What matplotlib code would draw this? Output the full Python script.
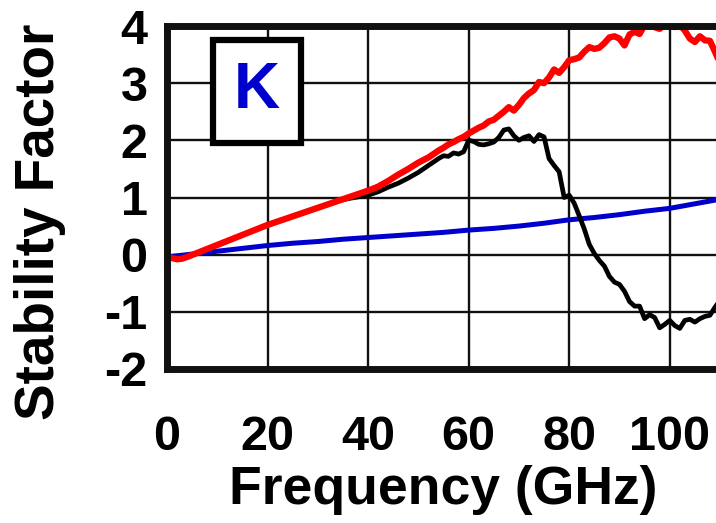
import matplotlib
matplotlib.use('Agg')
import matplotlib.pyplot as plt
from matplotlib.patches import Rectangle

# frequency grid (GHz): 1 GHz steps near the origin, 2 GHz up to 54, then 1 GHz
freq = [0, 1, 2, 3, 4] + list(range(6, 56, 2)) + list(range(55, 111))

# red trace
k_red = [-0.03, -0.06, -0.08, -0.07, -0.04,
         0.03, 0.10, 0.17, 0.24, 0.31, 0.38, 0.45, 0.52, 0.58, 0.64,
         0.70, 0.76, 0.82, 0.88, 0.94, 1.00, 1.06, 1.12, 1.19, 1.29,
         1.40, 1.50, 1.61, 1.70, 1.82,
         1.87, 1.93, 1.97, 2.02, 2.06, 2.12, 2.17, 2.22, 2.26, 2.33,
         2.36, 2.43, 2.50, 2.58, 2.52, 2.62, 2.74, 2.82, 2.88, 3.02,
         3.00, 3.10, 3.24, 3.18, 3.28, 3.40, 3.42, 3.45, 3.55, 3.63,
         3.60, 3.62, 3.70, 3.80, 3.82, 3.78, 3.66, 3.85, 3.90, 3.86,
         4.02, 4.05, 3.98, 3.95, 4.03, 4.04, 3.98, 4.02, 3.92, 3.78,
         3.72, 3.82, 3.75, 3.74, 3.55, 3.35]

# black trace
k_black = [-0.03, -0.06, -0.08, -0.07, -0.04,
           0.03, 0.10, 0.17, 0.24, 0.31, 0.38, 0.45, 0.52, 0.58, 0.64,
           0.70, 0.76, 0.82, 0.88, 0.94, 0.98, 1.01, 1.04, 1.10, 1.18,
           1.25, 1.34, 1.44, 1.56, 1.68,
           1.73, 1.72, 1.78, 1.76, 1.80, 2.00, 1.98, 1.93, 1.92, 1.94,
           1.97, 2.05, 2.18, 2.20, 2.08, 2.00, 2.05, 2.08, 1.98, 2.10,
           2.06, 1.68, 1.56, 1.45, 1.00, 1.04, 0.90, 0.68, 0.45, 0.18,
           0.02, -0.10, -0.20, -0.38, -0.48, -0.52, -0.64, -0.82, -0.90, -0.90,
           -1.12, -1.05, -1.10, -1.28, -1.22, -1.15, -1.24, -1.29, -1.15, -1.13,
           -1.18, -1.12, -1.08, -1.06, -0.92, -0.80]

# blue trace (smooth, sampled every 5 GHz)
freq_blue = list(range(0, 111, 5))
k_blue = [-0.04, 0.01, 0.06, 0.11, 0.16, 0.20, 0.23, 0.27, 0.30, 0.33, 0.36,
          0.39, 0.43, 0.46, 0.50, 0.55, 0.61, 0.65, 0.70, 0.76, 0.81, 0.89, 0.97]

xticks = [0, 20, 40, 60, 80, 100]
yticks = [-2, -1, 0, 1, 2, 3, 4]

plt.rcParams['font.family'] = 'Liberation Sans'
plt.rcParams['font.weight'] = 'bold'
plt.rcParams['axes.unicode_minus'] = False

fig = plt.figure(figsize=(7.16, 5.23), dpi=100)
ax = fig.add_axes([167 / 716, 154 / 523, 553 / 716, 343 / 523])

ax.plot(freq_blue, k_blue, color='#0000cc', lw=3.6, zorder=3)
ax.plot(freq, k_black, color='black', lw=3.4, zorder=4)
ax.plot(freq, k_red, color='#ff0000', lw=4.6, zorder=5)

ax.set_xlim(0, 110)
ax.set_ylim(-2, 4)
ax.set_xticks(xticks)
ax.set_yticks(yticks)
ax.grid(True, color='#111111', lw=1.7)
ax.set_axisbelow(True)
for s in ax.spines.values():
    s.set_linewidth(5)
    s.set_color('#111111')
    s.set_zorder(6)

ax.tick_params(axis='both', length=0, labelsize=35)
ax.tick_params(axis='x', pad=33)
ax.tick_params(axis='y', pad=14)
ax.set_xlabel('Frequency (GHz)', fontsize=38.5, fontweight='bold', labelpad=4)
ax.set_ylabel('Stability Factor', fontsize=39.5, fontweight='bold')
ax.yaxis.set_label_coords(-0.183, 0.43)

# "K" label box
ax.add_patch(Rectangle((0.083, 0.66), 0.16, 0.298, transform=ax.transAxes,
                       facecolor='white', edgecolor='black', lw=4.5, zorder=7,
                       clip_on=False))
ax.text(0.163, 0.81, 'K', transform=ax.transAxes, ha='center', va='center',
        fontsize=46, fontweight='bold', color='#0000cc', zorder=8)

plt.savefig('out.png', dpi=100)
